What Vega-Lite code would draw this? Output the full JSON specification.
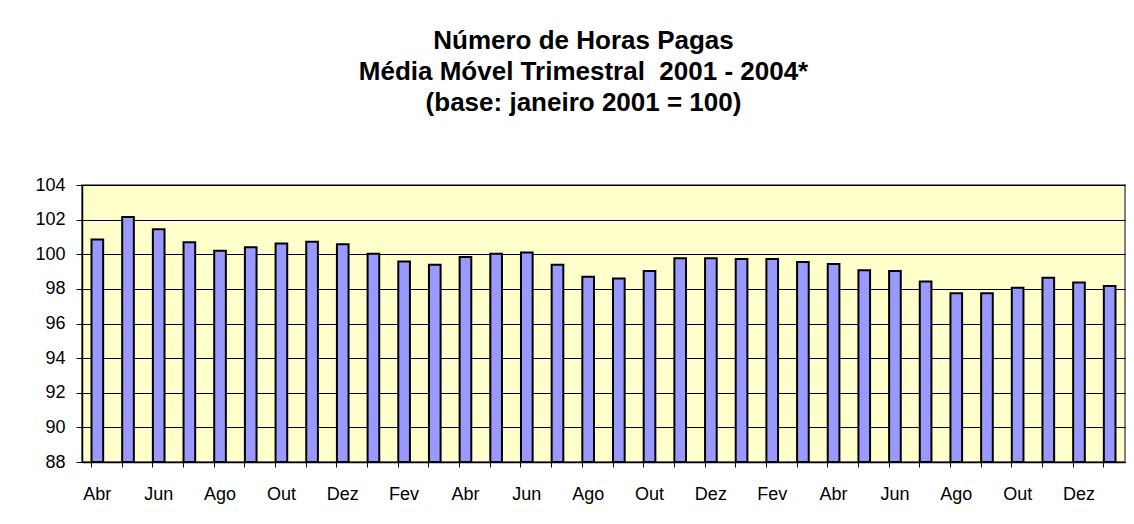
{
  "$schema": "https://vega.github.io/schema/vega-lite/v6.json",
  "autosize": {"type": "none"},
  "width": 1043,
  "height": 277,
  "padding": {"left": 82, "top": 185, "right": 9, "bottom": 62},
  "background": "white",
  "title": {
    "text": ["Número de Horas Pagas", "Média Móvel Trimestral\u00a0 2001 - 2004*", "(base: janeiro 2001 = 100)"],
    "font": "Liberation Sans",
    "fontSize": 26,
    "fontWeight": "bold",
    "lineHeight": 31,
    "color": "black",
    "anchor": "middle",
    "dx": -20,
    "offset": 60
  },
  "data": {
    "values": [
      {"p": "2001-04", "v": 100.85},
      {"p": "2001-05", "v": 102.15},
      {"p": "2001-06", "v": 101.45},
      {"p": "2001-07", "v": 100.7},
      {"p": "2001-08", "v": 100.2},
      {"p": "2001-09", "v": 100.4},
      {"p": "2001-10", "v": 100.62},
      {"p": "2001-11", "v": 100.72},
      {"p": "2001-12", "v": 100.58},
      {"p": "2002-01", "v": 100.03},
      {"p": "2002-02", "v": 99.58},
      {"p": "2002-03", "v": 99.4},
      {"p": "2002-04", "v": 99.84},
      {"p": "2002-05", "v": 100.03},
      {"p": "2002-06", "v": 100.1},
      {"p": "2002-07", "v": 99.4},
      {"p": "2002-08", "v": 98.7},
      {"p": "2002-09", "v": 98.6},
      {"p": "2002-10", "v": 99.03},
      {"p": "2002-11", "v": 99.77},
      {"p": "2002-12", "v": 99.77},
      {"p": "2003-01", "v": 99.73},
      {"p": "2003-02", "v": 99.73},
      {"p": "2003-03", "v": 99.55},
      {"p": "2003-04", "v": 99.44},
      {"p": "2003-05", "v": 99.07},
      {"p": "2003-06", "v": 99.03},
      {"p": "2003-07", "v": 98.43},
      {"p": "2003-08", "v": 97.75},
      {"p": "2003-09", "v": 97.75},
      {"p": "2003-10", "v": 98.06},
      {"p": "2003-11", "v": 98.64},
      {"p": "2003-12", "v": 98.37},
      {"p": "2004-01", "v": 98.16}
    ]
  },
  "mark": {"type": "bar", "fill": "#9999FF", "stroke": "black", "strokeWidth": 2},
  "encoding": {
    "x": {
      "field": "p",
      "type": "ordinal",
      "sort": null,
      "scale": {"paddingInner": 0.62, "paddingOuter": 0.31},
      "axis": {
        "title": null,
        "bandPosition": 0,
        "labelAngle": 0,
        "labelOverlap": false,
        "labelFont": "Liberation Sans",
        "labelFontSize": 18,
        "labelColor": "black",
        "labelPadding": 18,
        "tickSize": 5,
        "tickColor": "black",
        "domainColor": "black",
        "domainWidth": 1.5,
        "grid": false,
        "labelExpr": "toNumber(slice(datum.value,5,7)) % 2 == 0 ? ['Jan','Fev','Mar','Abr','Mai','Jun','Jul','Ago','Set','Out','Nov','Dez'][toNumber(slice(datum.value,5,7))-1] : ''"
      }
    },
    "y": {
      "field": "v",
      "type": "quantitative",
      "scale": {"domain": [88, 104], "zero": false, "nice": false},
      "axis": {
        "title": null,
        "values": [88, 90, 92, 94, 96, 98, 100, 102, 104],
        "labelFont": "Liberation Sans",
        "labelFontSize": 18,
        "labelColor": "black",
        "labelPadding": 11,
        "tickSize": 6,
        "tickColor": "black",
        "domainColor": "black",
        "domainWidth": 1.5,
        "grid": true,
        "gridColor": "black",
        "gridWidth": 1,
        "gridOpacity": 1
      }
    },
    "y2": {"datum": 88}
  },
  "config": {
    "view": {"stroke": "#808080", "strokeWidth": 2, "fill": "#FFFFCC"}
  }
}
